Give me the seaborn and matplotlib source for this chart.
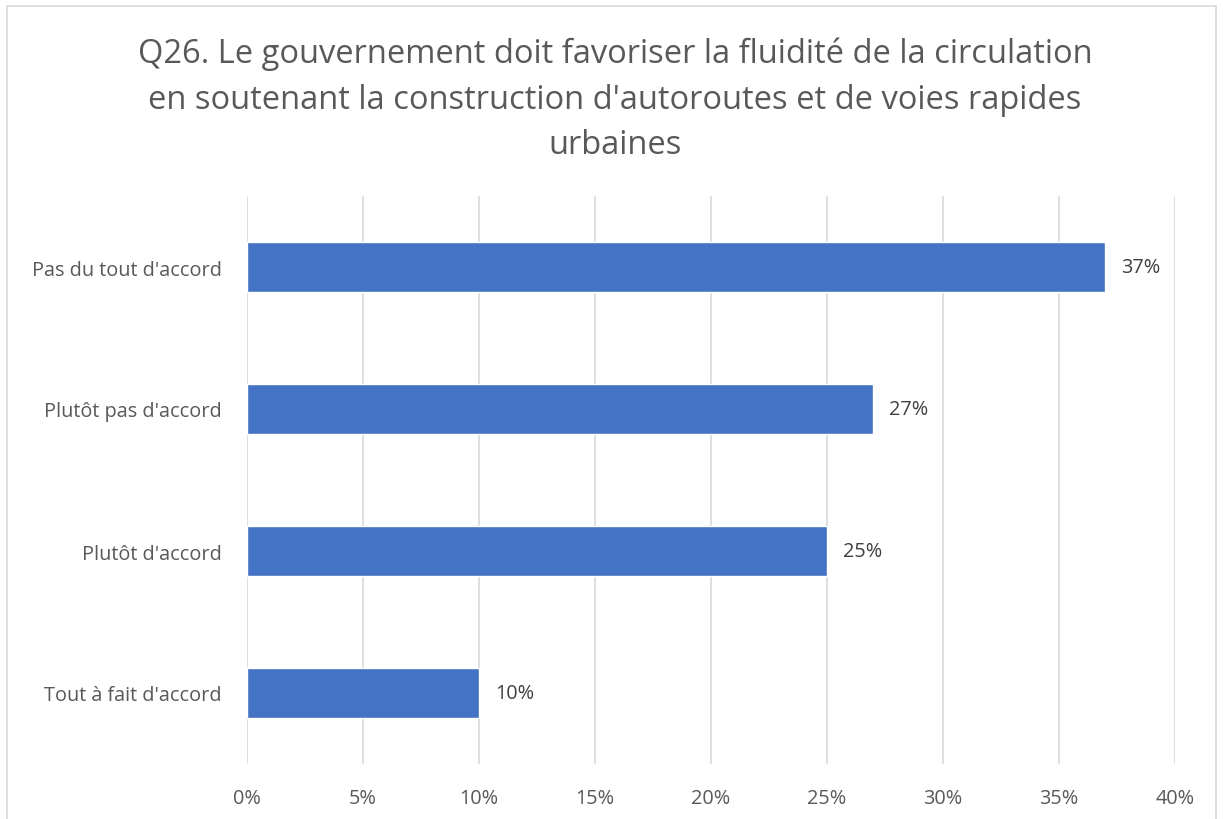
import matplotlib
matplotlib.use("Agg")
import matplotlib.pyplot as plt
import seaborn as sns
import pandas as pd
from matplotlib.patches import Rectangle
from matplotlib.ticker import FuncFormatter, MultipleLocator

categories = ["Pas du tout d'accord", "Plutôt pas d'accord", "Plutôt d'accord", "Tout à fait d'accord"]
values = [37, 27, 25, 10]
title = "Q26. Le gouvernement doit favoriser la fluidité de la circulation\nen soutenant la construction d'autoroutes et de voies rapides\nurbaines"

df = pd.DataFrame({"cat": categories, "val": values})

sns.set_theme(style="white")
plt.rcParams['font.family'] = ['Open Sans', 'DejaVu Sans']
text_color = "#595959"

fig = plt.figure(figsize=(12.23, 8.20), dpi=100)
ax = fig.add_axes([247/1223, 1 - 765/820, (1175-247)/1223, (765-197)/820])

sns.barplot(data=df, x="val", y="cat", color="#4472C4", width=0.35, ax=ax, saturation=1, zorder=3)

ax.set_xlim(0, 40)
ax.xaxis.set_major_locator(MultipleLocator(5))
ax.xaxis.set_major_formatter(FuncFormatter(lambda v, p: f"{int(v)}%"))
ax.grid(axis="x", color="#D9D9D9", linewidth=1.2, zorder=0)
ax.set_axisbelow(True)
for s in ax.spines.values():
    s.set_visible(False)
ax.set_xlabel("")
ax.set_ylabel("")
ax.tick_params(axis="x", labelsize=14.3, colors=text_color, pad=17, length=0)
ax.tick_params(axis="y", labelsize=14.3, colors=text_color, pad=18, length=0)

for i, v in enumerate(values):
    ax.text(v + 0.68, i, f"{v}%", va="center", ha="left", fontsize=14.3, color="#404040")

fig.text(615/1223, 1 - 100/820, title, ha="center", va="center", fontsize=23.5,
         color=text_color, linespacing=1.5)

fig.patches.append(Rectangle((7/1223, -0.01), (1216-7)/1223, 1 - 7/820 + 0.01,
                             transform=fig.transFigure, fill=False, edgecolor="#D9D9D9", linewidth=1.2))

fig.savefig("out.png", dpi=100, facecolor="white")
